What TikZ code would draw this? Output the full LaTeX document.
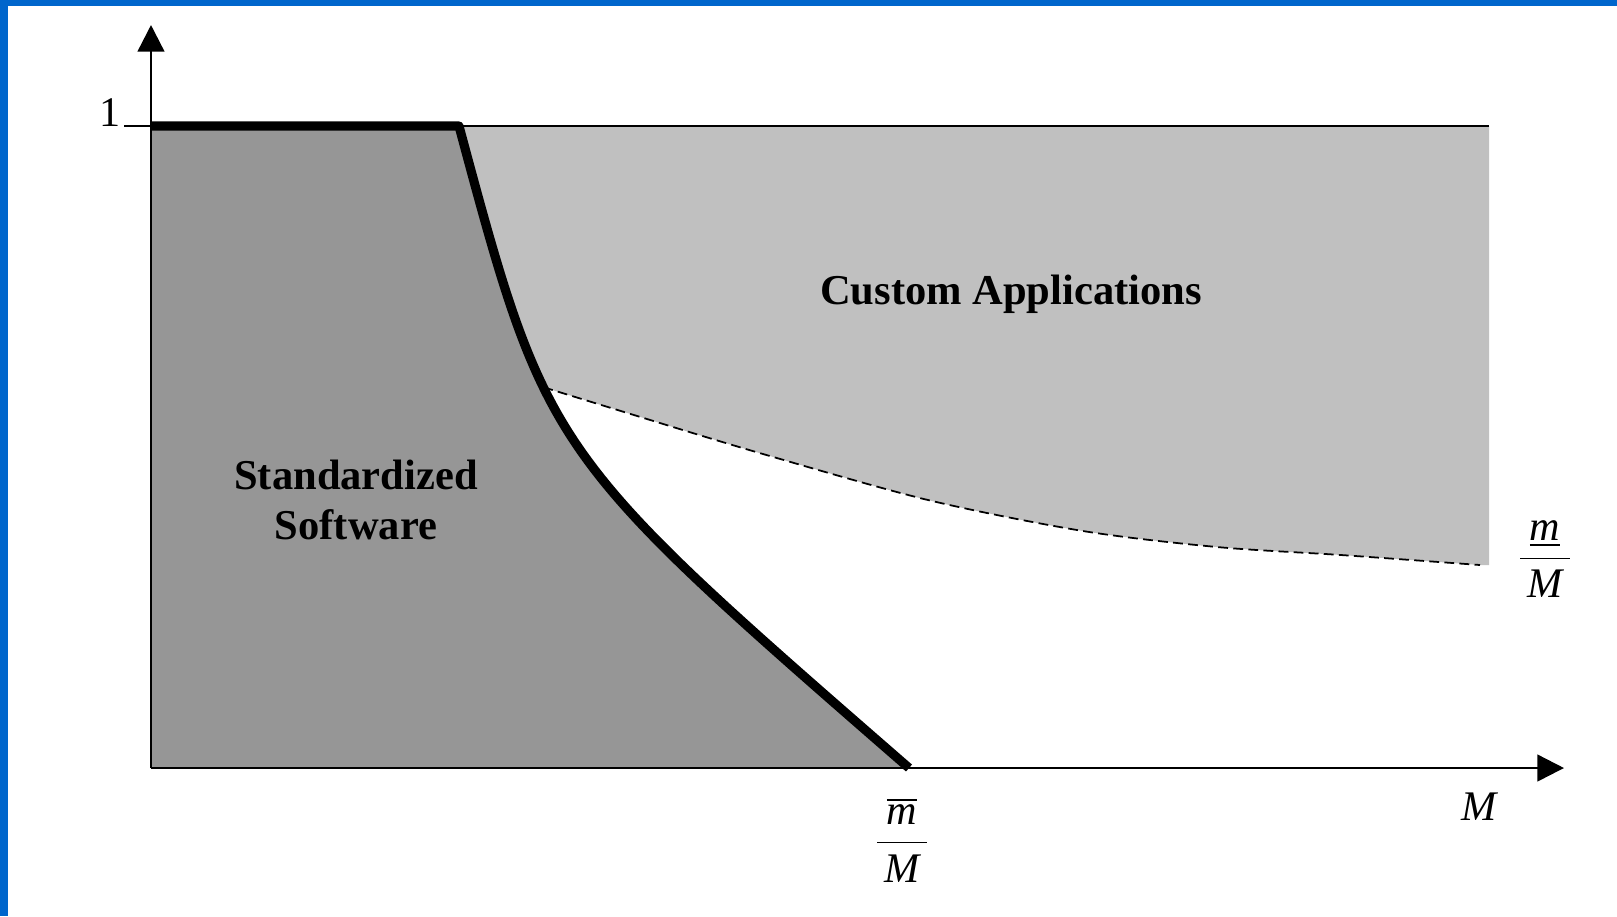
\documentclass[tikz,border=0pt]{standalone}
\usepackage{fontspec}
\setmainfont{Liberation Serif}
\usetikzlibrary{arrows.meta}
\definecolor{frameblue}{HTML}{0066CC}
\definecolor{stdgray}{HTML}{969696}
\definecolor{customgray}{HTML}{C0C0C0}

\begin{document}
\begin{tikzpicture}[x=0.1mm,y=-0.1mm,
    axis/.style={line width=0.7pt,-{Triangle[length=7.6pt,width=7.6pt]}},
    frontier/.style={line width=2.6pt,line join=round},
    lbl/.style={font=\fontsize{12}{14}\selectfont,inner sep=0pt},
    region/.style={lbl,font=\fontsize{12.1}{14}\selectfont\bfseries,align=center}]
  \useasboundingbox (0,0) rectangle (1617,916);
  \fill[frameblue] (0,0) rectangle (1617,6);
  \fill[frameblue] (0,0) rectangle (8,916);
  \coordinate (top) at (459,126);
  \coordinate (knee) at (547,453);
  \coordinate (mbar) at (909,768);
  \path (top) .. controls (knee) .. coordinate[pos=0.37] (split) (mbar);
  % custom area; its left part is covered by the standard area below
  \fill[customgray] (300,126) -- (1489,126) -- (1489,565)
    -- plot[smooth] coordinates {(1480,565) (1341,555) (1217,547) (1083,531) (928,500) (763,454) (660,423)}
    -- (split) -- (300,387) -- cycle;
  \fill[stdgray] (151,768) -- (151,126) -- (top) .. controls (knee) .. (mbar) -- cycle;
  \draw[line width=0.7pt] (top) -- (1489,126);
  \draw[line width=0.5pt,dash pattern=on 2.8pt off 1.5pt] (split)
    -- plot[smooth] coordinates {(660,423) (763,454) (928,500) (1083,531) (1217,547) (1341,555) (1480,565)};
  \draw[frontier] (151,126) -- (top) .. controls (knee) .. (mbar);
  % axes
  \draw[axis] (151,768) -- (151,25);
  \draw[axis] (151,768) -- (1564,768);
  \draw[line width=0.7pt] (124,126) -- (151,126);
  \node[lbl] (one) at (110,113) {1};
  \node[lbl] (mlabel) at (1480,807) {\textit{M}};
  \node[lbl] (upper) at (1545,559) {$\displaystyle\frac{\hspace{2pt}\underline{\textit{m}}\hspace{2pt}}{\hspace{2pt}\textit{M}\hspace{2pt}}$};
  \node[lbl] (lower) at (902,840) {$\displaystyle\frac{\hspace{2pt}\overline{\textit{m}}\hspace{2pt}}{\hspace{2pt}\textit{M}\hspace{2pt}}$};
  % region labels
  \node[region] (custom) at (1011,294) {Custom Applications};
  \node[region] (standard) at (356,500) {Standardized\\Software};
\end{tikzpicture}
\end{document}
